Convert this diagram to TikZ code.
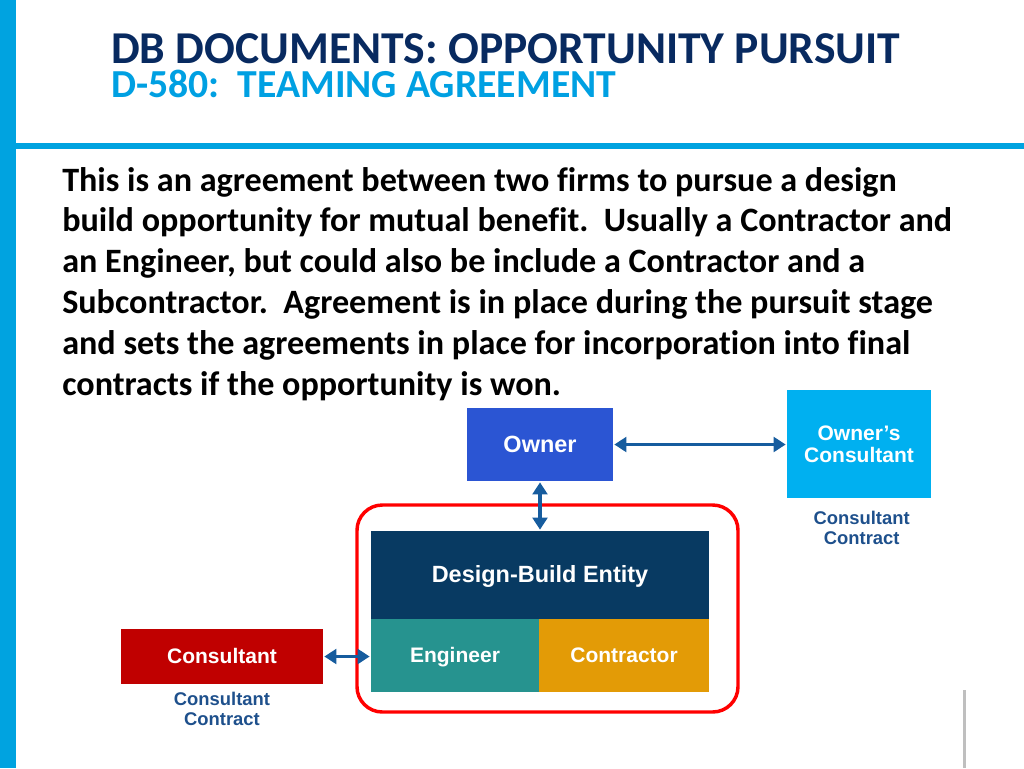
\documentclass[tikz,border=0pt]{standalone}
\usepackage{fontspec}
\setmainfont{Carlito}[Ligatures=NoCommon]
\newfontfamily\boxfont{Liberation Sans}
\usetikzlibrary{arrows.meta, positioning}

\definecolor{barblue}{RGB}{0,163,224}
\definecolor{titlenavy}{RGB}{8,42,96}
\definecolor{subblue}{RGB}{0,160,226}
\definecolor{ownerblue}{RGB}{43,85,211}
\definecolor{consblue}{RGB}{0,176,240}
\definecolor{dbnavy}{RGB}{8,58,98}
\definecolor{engteal}{RGB}{38,147,143}
\definecolor{conorange}{RGB}{227,155,6}
\definecolor{consred}{RGB}{192,0,0}
\definecolor{teamred}{RGB}{255,0,0}
\definecolor{linkblue}{RGB}{22,92,158}
\definecolor{labelblue}{RGB}{30,80,140}
\definecolor{rulegray}{RGB}{191,191,191}

\tikzset{
  box/.style={fill=#1, text=white, inner sep=0pt, outer sep=0pt, align=center,
    font=\boxfont\bfseries\fontsize{15.75}{18}\selectfont},
  oneline/.style={box=#1, text height=13.4pt, text depth=3.15pt},
  bigbox/.style={box=#1, font=\boxfont\bfseries\fontsize{17.6}{20}\selectfont,
    text height=15.1pt, text depth=3.5pt},
  link/.style={<->, >={Triangle[width=11pt,length=9pt]}, line width=2.4pt,
    draw=linkblue, shorten <=1pt, shorten >=1pt},
  contract/.style={text=labelblue, inner sep=0pt, align=center,
    font=\boxfont\bfseries\fontsize{13.8}{14.6}\selectfont}
}

\begin{document}
\begin{tikzpicture}[x=0.75pt, y=-0.75pt]
\useasboundingbox (0,0) rectangle (1024,768);

\fill[barblue] (0,0) rectangle (16,768);
\fill[barblue] (16,143) rectangle (1024,149);

\node[anchor=base west, inner sep=0pt, text depth=0pt, text=titlenavy, font=\bfseries\fontsize{34.2}{36}\selectfont]
  (title) at (111,63) {DB DOCUMENTS: OPPORTUNITY PURSUIT};
\node[anchor=base west, inner sep=0pt, text height=19pt, text=subblue, font=\bfseries\fontsize{29.8}{33}\selectfont]
  (subtitle) at (111,97) {D-580:\ \ TEAMING AGREEMENT};

\foreach \txt [count=\i] in {
  {This is an agreement between two firms to pursue a design},
  {build opportunity for mutual benefit.\ \ Usually a Contractor and},
  {an Engineer, but could also be include a Contractor and a},
  {Subcontractor.\ \ Agreement is in place during the pursuit stage},
  {and sets the agreements in place for incorporation into final},
  {contracts if the opportunity is won.}}
  \node[anchor=base west, inner sep=0pt, font=\bfseries\fontsize{25.6}{30}\selectfont]
    (body-\i) at (62,{191+40.8*(\i-1)}) {\txt};

\node[bigbox=ownerblue, minimum width=109.5pt, minimum height=54.75pt] (owner) at (540,444.5) {Owner};
\node[box=consblue, minimum width=108pt, minimum height=81pt, font=\boxfont\bfseries\fontsize{15.75}{16.5}\selectfont]
  (ownercons) at (859,444) {Owner’s\\Consultant};
\node[contract, below=10pt of ownercons, xshift=2pt] (ocontract) {Consultant\\Contract};

\draw[teamred, line width=2.6pt, rounded corners=19pt] (357,505) rectangle (738,712);

\node[bigbox=dbnavy, minimum width=253.5pt, minimum height=66pt] (dbe) at (540,575) {Design-Build Entity};
\node[oneline=engteal, minimum width=126pt, minimum height=54.75pt, anchor=north west] (eng) at (dbe.south west) {Engineer};
\node[oneline=conorange, minimum width=127.5pt, minimum height=54.75pt, anchor=north west] (con) at (eng.north east) {Contractor};

\node[oneline=consred, minimum width=151.5pt, minimum height=41.25pt] (cons) at (222,656.5) {Consultant};
\node[contract, below=6pt of cons] (ccontract) {Consultant\\Contract};

\draw[link] (owner.east) -- (owner.east -| ownercons.west);
\draw[link] (owner.south) -- (dbe.north);
\draw[link] (cons.east) -- (cons.east -| eng.west);

\draw[rulegray, line width=2.25pt] (964,690) -- (964,768);
\end{tikzpicture}
\end{document}
